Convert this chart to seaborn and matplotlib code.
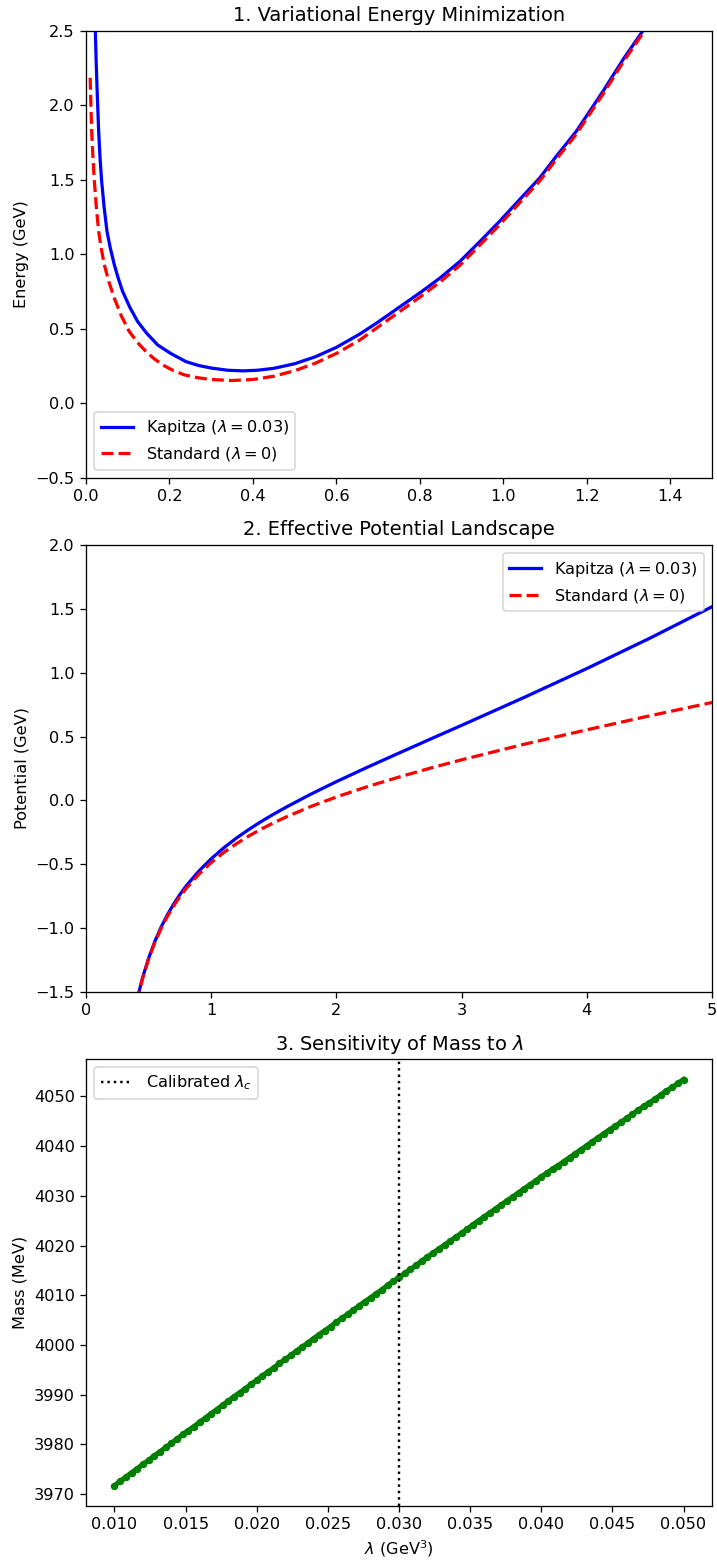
import matplotlib
matplotlib.use("Agg")
import matplotlib.pyplot as plt
import seaborn as sns
import pandas as pd

# ---------------- Panel 1: variational energy ----------------
kap_x = [0.018, 0.0224, 0.0243, 0.0263, 0.0303, 0.0337, 0.0375, 0.0435, 0.0503, 0.058,
         0.0679, 0.0775, 0.0878, 0.105, 0.1238, 0.145, 0.1717, 0.203, 0.2395, 0.27,
         0.30, 0.34, 0.377, 0.41, 0.45, 0.50, 0.55, 0.60, 0.656, 0.70,
         0.75, 0.80, 0.848, 0.896, 0.944, 0.991, 1.039, 1.087, 1.127, 1.175,
         1.199, 1.239, 1.287, 1.334, 1.40, 1.50]
kap_e = [3.20, 2.50, 2.30, 2.13, 1.827, 1.645, 1.491, 1.315, 1.155, 1.045,
         0.930, 0.838, 0.751, 0.645, 0.549, 0.472, 0.392, 0.335, 0.280, 0.254,
         0.237, 0.222, 0.218, 0.222, 0.235, 0.266, 0.313, 0.376, 0.465, 0.546,
         0.644, 0.742, 0.841, 0.953, 1.087, 1.222, 1.368, 1.513, 1.659, 1.827,
         1.928, 2.096, 2.309, 2.500, 2.80, 3.30]

std_x = [0.010, 0.0118, 0.0136, 0.0165, 0.020, 0.025, 0.0303, 0.0365, 0.0439, 0.055,
         0.0679, 0.085, 0.1038, 0.123, 0.1437, 0.163, 0.1836, 0.208, 0.2355, 0.27,
         0.30, 0.349, 0.40, 0.45, 0.50, 0.55, 0.60, 0.656, 0.70, 0.75,
         0.80, 0.848, 0.896, 0.944, 0.991, 1.039, 1.087, 1.127, 1.175, 1.199,
         1.239, 1.287, 1.334, 1.40, 1.50]
std_e = [2.186, 1.995, 1.827, 1.66, 1.491, 1.31, 1.155, 1.04, 0.930, 0.815,
         0.706, 0.585, 0.482, 0.41, 0.348, 0.30, 0.258, 0.222, 0.191, 0.171,
         0.160, 0.153, 0.160, 0.182, 0.219, 0.270, 0.335, 0.425, 0.513, 0.613,
         0.713, 0.814, 0.927, 1.063, 1.199, 1.346, 1.492, 1.639, 1.807, 1.909,
         2.077, 2.291, 2.483, 2.78, 3.28]

# ---------------- Panel 2: effective potential ----------------
pot_r = [0.35, 0.40, 0.45, 0.50, 0.55, 0.60, 0.65, 0.70, 0.75, 0.80,
         0.90, 1.00, 1.10, 1.20, 1.30, 1.40, 1.50, 1.60, 1.80, 2.00,
         2.25, 2.50, 2.75, 3.00, 3.50, 4.00, 4.50, 5.00]
pot_kap = [-1.838, -1.590, -1.395, -1.236, -1.104, -0.992, -0.896, -0.812, -0.737, -0.670,
           -0.555, -0.457, -0.372, -0.296, -0.228, -0.165, -0.107, -0.052, 0.051, 0.147,
           0.261, 0.371, 0.480, 0.588, 0.807, 1.033, 1.269, 1.517]
pot_std = [-1.842, -1.595, -1.401, -1.243, -1.113, -1.003, -0.909, -0.826, -0.754, -0.689,
           -0.579, -0.487, -0.408, -0.340, -0.279, -0.224, -0.175, -0.129, -0.046, 0.027,
           0.109, 0.183, 0.253, 0.318, 0.440, 0.553, 0.662, 0.767]

# ---------------- Panel 3: mass vs lambda ----------------
lam_vals = [0.0100, 0.0104, 0.0108, 0.0112, 0.0116, 0.0120, 0.0124, 0.0128, 0.0132, 0.0136,
            0.0140, 0.0144, 0.0148, 0.0152, 0.0156, 0.0160, 0.0164, 0.0168, 0.0172, 0.0176,
            0.0180, 0.0184, 0.0188, 0.0192, 0.0196, 0.0200, 0.0204, 0.0208, 0.0212, 0.0216,
            0.0220, 0.0224, 0.0228, 0.0232, 0.0236, 0.0240, 0.0244, 0.0248, 0.0252, 0.0256,
            0.0260, 0.0264, 0.0268, 0.0272, 0.0276, 0.0280, 0.0284, 0.0288, 0.0292, 0.0296,
            0.0300,
            0.0304, 0.0308, 0.0312, 0.0316, 0.0320, 0.0324, 0.0328, 0.0332, 0.0336, 0.0340,
            0.0344, 0.0348, 0.0352, 0.0356, 0.0360, 0.0364, 0.0368, 0.0372, 0.0376, 0.0380,
            0.0384, 0.0388, 0.0392, 0.0396, 0.0400, 0.0404, 0.0408, 0.0412, 0.0416, 0.0420,
            0.0424, 0.0428, 0.0432, 0.0436, 0.0440, 0.0444, 0.0448, 0.0452, 0.0456, 0.0460,
            0.0464, 0.0468, 0.0472, 0.0476, 0.0480, 0.0484, 0.0488, 0.0492, 0.0496, 0.0500]
mass_vals = [3971.7, 3972.6, 3973.4, 3974.3, 3975.1, 3976.0, 3976.8, 3977.7, 3978.5, 3979.4,
             3980.2, 3981.1, 3982.0, 3982.8, 3983.6, 3984.5, 3985.3, 3986.2, 3987.0, 3987.9,
             3988.7, 3989.6, 3990.4, 3991.2, 3992.1, 3992.9, 3993.8, 3994.6, 3995.4, 3996.3,
             3997.1, 3997.9, 3998.8, 3999.6, 4000.4, 4001.3, 4002.1, 4002.9, 4003.7, 4004.6,
             4005.4, 4006.2, 4007.0, 4007.9, 4008.7, 4009.5, 4010.3, 4011.1, 4012.0, 4012.8,
             4013.6,
             4014.4, 4015.2, 4016.0, 4016.9, 4017.7, 4018.5, 4019.3, 4020.1, 4020.9, 4021.7,
             4022.5, 4023.3, 4024.2, 4025.0, 4025.8, 4026.6, 4027.4, 4028.2, 4029.0, 4029.8,
             4030.6, 4031.4, 4032.2, 4033.0, 4033.8, 4034.6, 4035.4, 4036.1, 4036.9, 4037.7,
             4038.5, 4039.3, 4040.1, 4040.9, 4041.7, 4042.5, 4043.3, 4044.0, 4044.8, 4045.6,
             4046.4, 4047.2, 4048.0, 4048.7, 4049.5, 4050.3, 4051.1, 4051.8, 4052.6, 4053.4]
lam_cal = 0.03

lab_kap = r"Kapitza ($\lambda = 0.03$)"
lab_std = r"Standard ($\lambda = 0$)"

DPI = 116
fig, axes = plt.subplots(3, 1, figsize=(717 / DPI, 1562 / DPI), dpi=DPI)
fig.subplots_adjust(left=86 / 717, right=712 / 717, top=1 - 31 / 1562,
                    bottom=1 - 1506 / 1562, hspace=0.1506)

# Panel 1
ax1 = axes[0]
sns.lineplot(x=kap_x, y=kap_e, ax=ax1, color="blue", linewidth=2, label=lab_kap)
sns.lineplot(x=std_x, y=std_e, ax=ax1, color="red", linewidth=2, linestyle="--", label=lab_std)
ax1.set_xlim(0, 1.5)
ax1.set_ylim(-0.5, 2.5)
ax1.set_title("1. Variational Energy Minimization")
ax1.set_ylabel("Energy (GeV)")
ax1.set_xlabel("")
ax1.legend(loc="lower left")

# Panel 2
ax2 = axes[1]
sns.lineplot(x=pot_r, y=pot_kap, ax=ax2, color="blue", linewidth=2, label=lab_kap)
sns.lineplot(x=pot_r, y=pot_std, ax=ax2, color="red", linewidth=2, linestyle="--", label=lab_std)
ax2.set_xlim(0, 5)
ax2.set_ylim(-1.5, 2.0)
ax2.set_title("2. Effective Potential Landscape")
ax2.set_ylabel("Potential (GeV)")
ax2.set_xlabel("")
ax2.legend(loc="upper right")

# Panel 3
ax3 = axes[2]
df3 = pd.DataFrame({"lam": lam_vals, "mass": mass_vals})
sns.lineplot(data=df3, x="lam", y="mass", ax=ax3, color="green", linewidth=3.2,
             marker="o", markersize=4.6, markeredgewidth=0, legend=False)
ax3.axvline(lam_cal, color="black", linestyle=":", label=r"Calibrated $\lambda_c$")
ax3.set_title(r"3. Sensitivity of Mass to $\lambda$")
ax3.set_xlabel(r"$\lambda$ (GeV$^3$)")
ax3.set_ylabel("Mass (MeV)")
ax3.legend(loc="upper left")

fig.savefig("out.png", dpi=DPI)
